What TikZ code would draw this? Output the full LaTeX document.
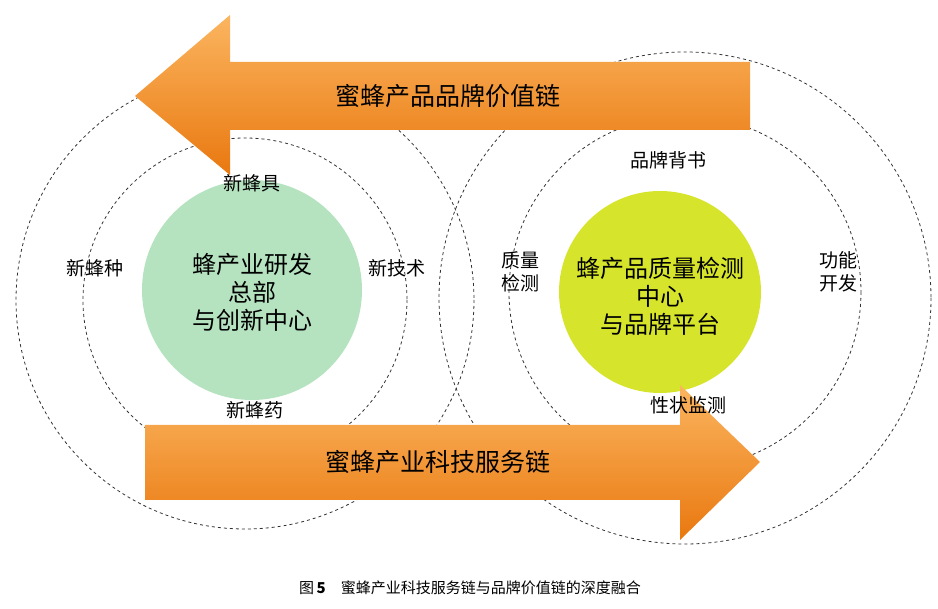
\documentclass[tikz,border=0pt]{standalone}
\usepackage{fontspec}
\setmainfont{Noto Sans CJK SC}
\usetikzlibrary{positioning}
\definecolor{orgA}{HTML}{FBB560}
\definecolor{orgB}{HTML}{E9780F}
\definecolor{greenfill}{HTML}{B5E3C0}
\definecolor{yellowfill}{HTML}{D6E42C}

\begin{document}
\begin{tikzpicture}[x=1pt,y=-1pt,semithick]
   \tikzstyle{ring}=[draw=black!80,dashed,line width=0.8pt]
   \tikzstyle{label}=[font=\fontsize{19}{23}\selectfont,align=center,text=black]
   \tikzstyle{core}=[font=\fontsize{24}{28}\selectfont,align=center]
   \tikzstyle{band}=[top color=orgA,bottom color=orgB,draw=none]
   \tikzstyle{bandtext}=[font=\fontsize{25}{28}\selectfont]

   \useasboundingbox (0,0) rectangle (938,609);

   % rings
   \draw[ring] (245,300) circle[radius=229];
   \draw[ring] (245,300) circle[radius=162];
   \draw[ring] (685,298) circle[radius=246];
   \draw[ring] (685,292) circle[radius=176];

   % centres
   \fill[greenfill] (252,290) circle[radius=110];
   \fill[yellowfill] (660,292) circle[radius=101];

   % arrows
   \path[band] (750,62) -- (230,62) -- (230,15) -- (135,96) -- (230,175)
               -- (230,130) -- (750,130) -- cycle;
   \path[band] (145,425) -- (680,425) -- (680,385) -- (760,462) -- (680,540)
               -- (680,500) -- (145,500) -- cycle;

   \node[bandtext] (brand) at (448,96) {蜜蜂产品品牌价值链};
   \node[bandtext] (tech)  at (438,462) {蜜蜂产业科技服务链};

   \node[core] (rnd) at (252,292) {蜂产业研发\\总部\\与创新中心};
   \node[core] (qc)  at (660,296) {蜂产品质量检测\\中心\\与品牌平台};

   \node[label] (tool) at (252,183) {新蜂具};
   \node[label] (seed) at (95,268)  {新蜂种};
   \node[label] (skill) at (397,268) {新技术};
   \node[label] (drug) at (255,410) {新蜂药};

   \node[label] (endorse) at (668,160) {品牌背书};
   \node[label] (check)   at (520,272) {质量\\检测};
   \node[label] (func)    at (838,272) {功能\\开发};
   \node[label] (trait)   at (688,405) {性状监测};

   \node[font=\fontsize{15}{18}\selectfont] (cap) at (470,588)
        {图\,\textbf{5}\quad 蜜蜂产业科技服务链与品牌价值链的深度融合};
\end{tikzpicture}
\end{document}
